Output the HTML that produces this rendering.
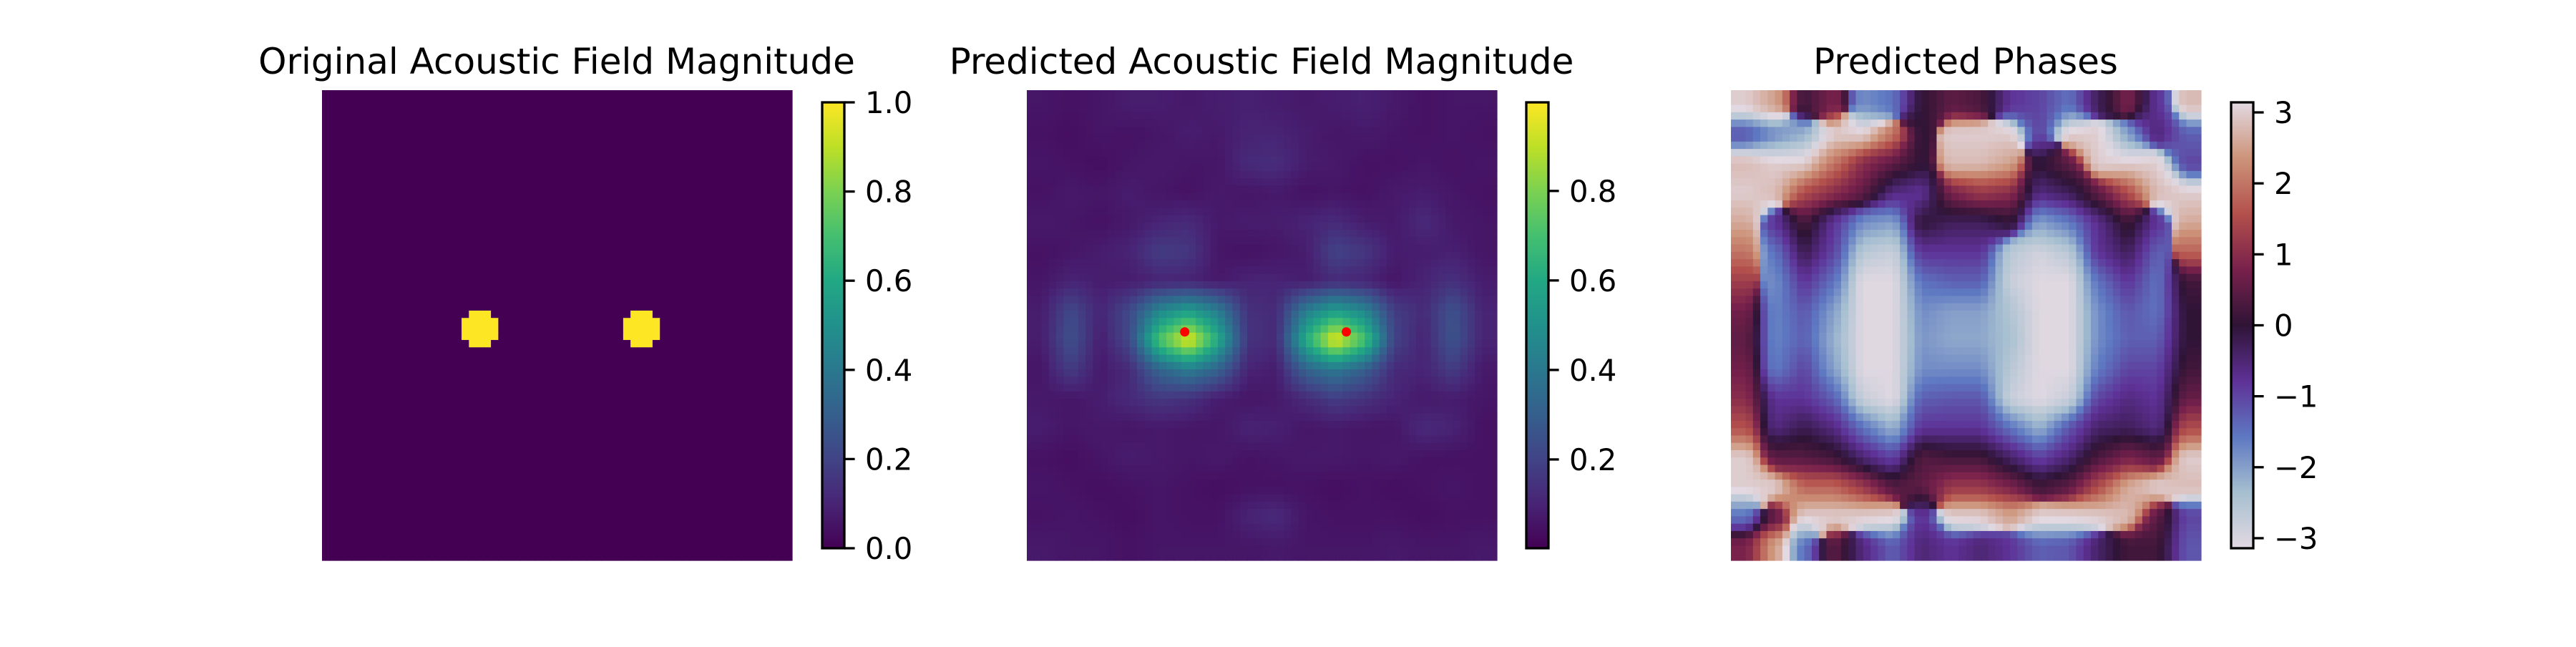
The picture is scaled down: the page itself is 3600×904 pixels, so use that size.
<!DOCTYPE html>
<html><head><meta charset="utf-8">
<style>
html,body{margin:0;padding:0;background:#fff;}
body{width:3600px;height:900px;overflow:hidden;font-family:"DejaVu Sans","Liberation Sans",sans-serif;}
svg text{font-family:"DejaVu Sans","Liberation Sans",sans-serif;}
</style></head>
<body>
<svg id="fig" width="3600" height="900" viewBox="0 0 3600 900" xmlns="http://www.w3.org/2000/svg">
<defs>
<linearGradient id="viridis" x1="0" y1="1" x2="0" y2="0">
<stop offset="0" stop-color="#440154"/><stop offset="0.1" stop-color="#482475"/><stop offset="0.2" stop-color="#414487"/><stop offset="0.3" stop-color="#355f8d"/><stop offset="0.4" stop-color="#2a788e"/><stop offset="0.5" stop-color="#21918c"/><stop offset="0.6" stop-color="#22a884"/><stop offset="0.7" stop-color="#44bf70"/><stop offset="0.8" stop-color="#7ad151"/><stop offset="0.9" stop-color="#bddf26"/><stop offset="1" stop-color="#fde725"/>
</linearGradient>
<linearGradient id="twilight" x1="0" y1="1" x2="0" y2="0">
<stop offset="0" stop-color="#e2d9e2"/><stop offset="0.125" stop-color="#a6bfd0"/><stop offset="0.25" stop-color="#5e78c2"/><stop offset="0.375" stop-color="#5e3196"/><stop offset="0.5" stop-color="#2f1436"/><stop offset="0.625" stop-color="#78214c"/><stop offset="0.75" stop-color="#b3504c"/><stop offset="0.875" stop-color="#cd947a"/><stop offset="1" stop-color="#e2d9e2"/>
</linearGradient>
</defs>
<text x="778" y="103" font-size="50" text-anchor="middle">Original Acoustic Field Magnitude</text>
<text x="1763" y="103" font-size="50" text-anchor="middle">Predicted Acoustic Field Magnitude</text>
<text x="2747" y="103" font-size="50" text-anchor="middle">Predicted Phases</text>
<g id="p1"></g>
<g id="p2"></g>
<g id="p3"></g>
<g id="cb1"></g>
<g id="cb2"></g>
<g id="cb3"></g>
</svg>
<script>
// ---- data ----
const gridSize = 64;
const sourceRows = [32, 32];
const sourceCols = [21, 43];
const sourceRadiusSq = 5;
const magGrid = [
[.06,.05,.06,.08,.08,.07,.08,.09,.08,.07,.08,.09,.07,.05,.06,.06],
[.05,.04,.06,.05,.06,.08,.07,.10,.10,.08,.06,.07,.06,.05,.06,.05],
[.06,.05,.04,.06,.07,.06,.06,.12,.13,.08,.07,.05,.05,.06,.05,.06],
[.05,.07,.06,.08,.06,.05,.07,.06,.07,.05,.06,.05,.07,.08,.06,.05],
[.07,.06,.05,.07,.10,.12,.07,.08,.08,.10,.12,.08,.07,.12,.07,.06],
[.05,.06,.08,.10,.18,.16,.06,.05,.06,.08,.20,.16,.08,.08,.09,.06],
[.06,.10,.08,.08,.10,.10,.07,.10,.10,.08,.12,.10,.06,.10,.14,.08],
[.08,.22,.10,.22,.45,.55,.42,.14,.12,.42,.55,.45,.18,.12,.25,.10],
[.08,.25,.08,.22,.72,.98,.62,.15,.12,.62,.98,.72,.20,.10,.26,.10],
[.06,.18,.07,.12,.32,.42,.32,.10,.08,.32,.40,.30,.12,.10,.18,.07],
[.07,.06,.08,.12,.16,.14,.08,.06,.07,.12,.18,.14,.10,.07,.08,.06],
[.08,.06,.07,.06,.07,.06,.06,.10,.09,.06,.07,.06,.06,.12,.10,.05],
[.05,.04,.06,.08,.07,.06,.07,.05,.06,.07,.07,.06,.07,.05,.05,.05],
[.06,.05,.04,.05,.06,.05,.04,.05,.05,.05,.04,.05,.04,.05,.06,.05],
[.05,.06,.05,.04,.06,.05,.05,.10,.12,.06,.05,.05,.05,.04,.05,.05],
[.07,.06,.06,.05,.06,.06,.06,.06,.07,.06,.06,.06,.07,.06,.06,.07]];
const peakRows = [32.4, 32.4];
const peakCols = [21.0, 43.0];
const phaseGrid = [
[3,2.5,0.2,0.8,-1.8,-1.5,0,0.5,0.3,-0.8,-1,-1.5,-0.3,0.8,-0.8,2.8],
[-1.2,-1.8,-2.2,3,3,2,0,3,3,3,-1,3,3,-2,-0.5,-1.3],
[2.8,3,3,2,1,0.5,0,2.8,2.8,2.5,0,0.5,3,3,3,-1],
[3,2.8,1.5,1,0.5,-0.6,-0.8,0.8,1.2,1.0,-0.6,-0.3,0.5,1.5,2.8,3],
[2.6,-0.8,0.3,-0.8,-1.8,-2.0,0,-0.3,-0.3,0,-2.0,-1.6,-0.7,0.2,-0.8,2.6],
[2.0,-1.5,-0.2,-1.0,-2.6,-2.8,-0.8,-0.8,-0.8,-2.6,-2.9,-2.6,-0.8,-0.3,-1.3,1.8],
[1.3,-1.8,-0.8,-1.5,-3.1,-3.1,-1.5,-1.3,-1.3,-2.8,-3.1,-3.1,-1.5,-0.8,-1.5,0.2],
[0.7,-1.7,-1.2,-2.0,-3.1,-3.1,-1.8,-2.0,-2.0,-2.5,-3.1,-3.1,-1.8,-1.2,-1.5,0],
[0.5,-1.7,-1.3,-2.2,-3.1,-3.1,-1.9,-2.1,-2.1,-2.4,-3.1,-3.1,-1.8,-1.3,-1.3,0],
[0.7,-1.6,-1.0,-2.0,-3.1,-3.1,-1.8,-1.8,-1.8,-2.6,-3.1,-3.1,-1.6,-1.0,-1.0,0.2],
[1.0,-0.8,-0.8,-1.3,-2.8,-3.1,-1.3,-1.2,-1.2,-2.8,-3.1,-2.8,-1.0,-0.6,-0.8,0.6],
[1.6,-0.6,-0.2,-0.6,-1.5,-2.2,-0.8,-0.8,-0.8,-1.5,-2.2,-1.2,-0.4,-0.3,-0.6,1.5],
[3,0.5,0.4,0.2,-0.5,-1.0,0.4,0.2,0.2,-0.4,-1.0,-0.5,0.3,0.8,0.5,3],
[3,3,1.8,1.8,1.2,0.4,0.5,1.2,1.2,0.8,0.2,0.5,1.5,2.6,3,2.8],
[-1.5,0.5,3,3,3,3,-0.8,3,3,2.5,3,3,3,2.8,0.5,-1],
[0.8,2.5,-1.5,0.5,-0.6,-1.3,-0.5,-0.8,-0.5,-0.8,-1.3,-1.2,-0.4,0.2,0.2,-1.2]];
const cb1Ticks = [0, 0.2, 0.4, 0.6, 0.8, 1.0];
const cb1Labels = ["0.0","0.2","0.4","0.6","0.8","1.0"];
const cb2Ticks = [0.2, 0.4, 0.6, 0.8];
const cb2Labels = ["0.2","0.4","0.6","0.8"];
const cb3Ticks = [-3,-2,-1,0,1,2,3];
const cb3Labels = ["\u22123","\u22122","\u22121","0","1","2","3"];
const mag1Range = [0, 1];
const mag2Range = [0.0016, 0.998];
const phaseRange = [-3.1416, 3.1416];

// ---- helpers ----
const NS = "http://www.w3.org/2000/svg";
const panelTop = 126, panelSize = 657;
const panelLefts = [450, 1435, 2419];
const viridis = [[68,1,84],[72,36,117],[65,68,135],[53,95,141],[42,120,142],[33,145,140],[34,168,132],[68,191,112],[122,209,81],[189,223,38],[253,231,37]];
const twilight = [[226,217,226],[166,191,208],[94,120,194],[94,49,150],[47,20,54],[120,33,76],[179,80,76],[205,148,122],[226,217,226]];
function cmap(stops, t){
  t = Math.max(0, Math.min(1, t));
  const p = t*(stops.length-1), i = Math.min(Math.floor(p), stops.length-2), f = p-i;
  const a = stops[i], b = stops[i+1];
  return "rgb("+[0,1,2].map(k=>Math.round(a[k]+(b[k]-a[k])*f)).join(",")+")";
}
function norm(v, r){ return (v-r[0])/(r[1]-r[0]); }
function sampleFn(n, fr, fc, get){
  const s = gridSize/n;
  let y = (fr+0.5)/s-0.5, x = (fc+0.5)/s-0.5;
  y = Math.max(0, Math.min(n-1, y)); x = Math.max(0, Math.min(n-1, x));
  const y0 = Math.min(Math.floor(y), n-2), x0 = Math.min(Math.floor(x), n-2), fy = y-y0, fx = x-x0;
  return get(y0,x0)*(1-fy)*(1-fx)+get(y0,x0+1)*(1-fy)*fx+get(y0+1,x0)*fy*(1-fx)+get(y0+1,x0+1)*fy*fx;
}
function sample(grid, fr, fc){ return sampleFn(grid.length, fr, fc, (r,c)=>grid[r][c]); }
function samplePhase(grid, fr, fc){
  const re = sampleFn(grid.length, fr, fc, (r,c)=>Math.cos(grid[r][c]));
  const im = sampleFn(grid.length, fr, fc, (r,c)=>Math.sin(grid[r][c]));
  return Math.atan2(im, re);
}
function cellX(p, c){ return panelLefts[p] + c*panelSize/gridSize; }
function cellY(r){ return panelTop + r*panelSize/gridSize; }
function addCell(g, p, r, c, fill){
  const el = document.createElementNS(NS, "rect");
  
  
  const x0 = cellX(p,c), y0 = cellY(r);
  el.setAttribute("x", x0.toFixed(2)); el.setAttribute("y", y0.toFixed(2));
  el.setAttribute("width", (cellX(p,c+1)-x0+0.6).toFixed(2));
  el.setAttribute("height", (cellY(r+1)-y0+0.6).toFixed(2));
  el.setAttribute("fill", fill);
  g.appendChild(el);
}

// panel 1
const g1 = document.getElementById("p1");
for (let r=0;r<gridSize;r++) for (let c=0;c<gridSize;c++){
  let v = 0;
  for (let k=0;k<sourceRows.length;k++){
    const dr=r-sourceRows[k], dc=c-sourceCols[k];
    if (dr*dr+dc*dc<=sourceRadiusSq) v = 1;
  }
  addCell(g1, 0, r, c, cmap(viridis, norm(v, mag1Range)));
}
// panel 2
const g2 = document.getElementById("p2");
for (let r=0;r<gridSize;r++) for (let c=0;c<gridSize;c++){
  addCell(g2, 1, r, c, cmap(viridis, norm(sample(magGrid, r, c), mag2Range)));
}
for (let k=0;k<peakRows.length;k++){
  const d = document.createElementNS(NS, "circle");
  
  
  d.setAttribute("cx", cellX(1, peakCols[k]+0.5)); d.setAttribute("cy", cellY(peakRows[k]+0.5));
  d.setAttribute("r", 6.5); d.setAttribute("fill", "#ff0000");
  g2.appendChild(d);
}
// panel 3
const g3 = document.getElementById("p3");
for (let r=0;r<gridSize;r++) for (let c=0;c<gridSize;c++){
  addCell(g3, 2, r, c, cmap(twilight, norm(samplePhase(phaseGrid, r, c), phaseRange)));
}

// colorbars
const cbTop = 143, cbBot = 766;
function colorbar(id, x0, w, grad, range, ticks, labels){
  const g = document.getElementById(id);
  const rect = document.createElementNS(NS, "rect");
  
  
  rect.setAttribute("x", x0); rect.setAttribute("y", cbTop);
  rect.setAttribute("width", w); rect.setAttribute("height", cbBot-cbTop);
  rect.setAttribute("fill", "url(#"+grad+")"); rect.setAttribute("stroke", "#000"); rect.setAttribute("stroke-width", 3.3);
  g.appendChild(rect);
  for (let i=0;i<ticks.length;i++){
    const y = cbBot - norm(ticks[i], range)*(cbBot-cbTop);
    const t = document.createElementNS(NS, "line");
    
    
    t.setAttribute("x1", x0+w); t.setAttribute("x2", x0+w+14.6);
    t.setAttribute("y1", y); t.setAttribute("y2", y);
    t.setAttribute("stroke", "#000"); t.setAttribute("stroke-width", 3.3);
    g.appendChild(t);
    const tx = document.createElementNS(NS, "text");
    
    
    tx.setAttribute("x", x0+w+29); tx.setAttribute("y", y+15);
    tx.setAttribute("font-size", 41.7);
    tx.textContent = labels[i];
    g.appendChild(tx);
  }
}
colorbar("cb1", 1149, 31, "viridis", mag1Range, cb1Ticks, cb1Labels);
colorbar("cb2", 2133, 31, "viridis", mag2Range, cb2Ticks, cb2Labels);
colorbar("cb3", 3118, 31, "twilight", phaseRange, cb3Ticks, cb3Labels);
</script>
</body></html>
